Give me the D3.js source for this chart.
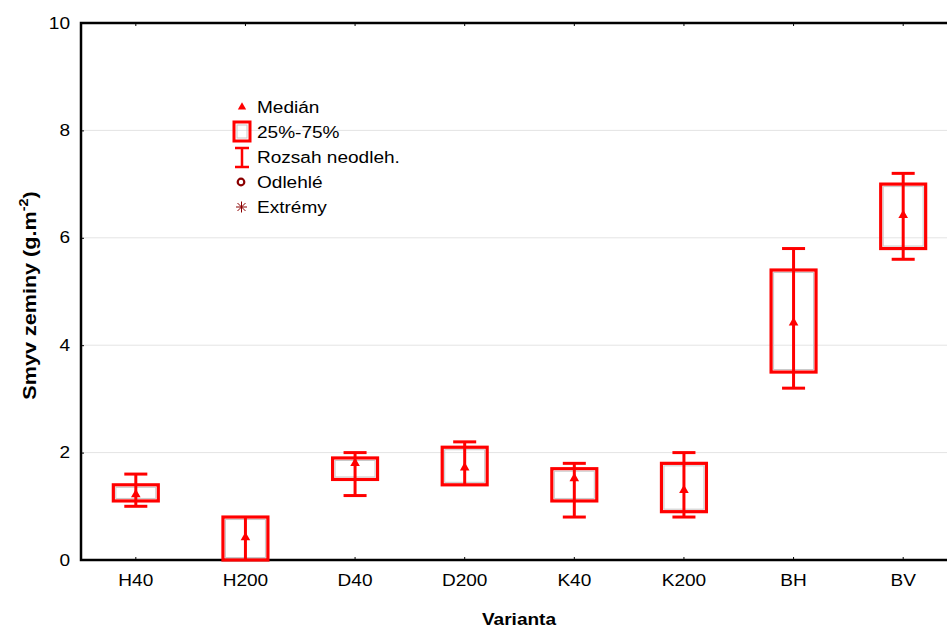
<!DOCTYPE html>
<html>
<head>
<meta charset="utf-8">
<script src="https://cdn.jsdelivr.net/npm/d3@7"></script>
<style>
  body { margin: 0; background: #fff; }
  svg { font-family: "Liberation Sans", Arial, sans-serif; }
</style>
</head>
<body>
<div id="chart"></div>
<script>
// values
const categories = ["H40", "H200", "D40", "D200", "K40", "K200", "BH", "BV"];
const medians = [1.22, 0.42, 1.8, 1.72, 1.52, 1.3, 4.42, 6.42];
const q1 = [1.1, 0.0, 1.5, 1.4, 1.1, 0.9, 3.5, 5.8];
const q3 = [1.4, 0.8, 1.9, 2.1, 1.7, 1.8, 5.4, 7.0];
const mins = [1.0, 0.0, 1.2, 1.4, 0.8, 0.8, 3.2, 5.6];
const maxs = [1.6, 0.8, 2.0, 2.2, 1.8, 2.0, 5.8, 7.2];
const yTicks = [0, 2, 4, 6, 8, 10];
const legendItems = ["Medián", "25%-75%", "Rozsah neodleh.", "Odlehlé", "Extrémy"];

const data = categories.map((c, i) => ({
    cat: c, med: medians[i], q1: q1[i], q3: q3[i], min: mins[i], max: maxs[i]
}));

const width = 947, height = 628;
const margin = {left: 81, top: 23, bottom: 68};
const plotW = 877;
const red = "#ff0000", darkRed = "#8b0000";
const sx = 1.19; // text in the original is drawn wider

const svg = d3.select("#chart").append("svg")
    .attr("width", width)
    .attr("height", height);

const x = d3.scaleBand(categories, [margin.left, margin.left + plotW]);
const y = d3.scaleLinear([0, 10], [height - margin.bottom, margin.top]);

// grid
svg.append("g")
  .selectAll("line")
  .data(yTicks.filter(d => d > 0 && d < 10))
  .join("line")
    .attr("x1", margin.left).attr("x2", width)
    .attr("y1", d => y(d)).attr("y2", d => y(d))
    .attr("stroke", "#e4e4e4").attr("stroke-width", 1);

// y axis
const yAxis = svg.append("g")
    .attr("transform", `translate(${margin.left},0)`)
    .call(d3.axisRight(y).tickValues(yTicks).tickSize(3).tickFormat(d3.format("d")));
yAxis.select(".domain").remove();
yAxis.selectAll(".tick line").attr("stroke", "#000");
yAxis.selectAll(".tick text")
    .attr("x", -11 / sx).attr("text-anchor", "end")
    .attr("transform", `scale(${sx},1)`)
    .attr("font-size", 16).attr("fill", "#000");

// x axis (bottom)
const xAxis = svg.append("g")
    .attr("transform", `translate(0,${y(0)})`)
    .call(d3.axisTop(x).tickSize(3));
xAxis.select(".domain").remove();
xAxis.selectAll(".tick line").attr("stroke", "#000");
xAxis.selectAll(".tick text")
    .attr("y", 26).attr("transform", `scale(${sx},1)`)
    .attr("font-size", 16).attr("fill", "#000");

// top ticks
svg.append("g")
    .attr("transform", `translate(0,${y(10)})`)
    .call(d3.axisBottom(x).tickSize(3).tickFormat(""))
    .call(g => g.select(".domain").remove())
    .selectAll(".tick line").attr("stroke", "#000");

// frame lines
svg.append("path")
    .attr("d", `M${width},${y(10)}H${margin.left}V${y(0)}H${width}`)
    .attr("fill", "none").attr("stroke", "#000").attr("stroke-width", 2.5);

// boxes
const bw = x.bandwidth() * 0.41;
const cw = x.bandwidth() * 0.21;
const g = svg.append("g");
const box = g.selectAll("g.box").data(data).join("g")
    .attr("class", "box")
    .attr("transform", d => `translate(${x(d.cat) + x.bandwidth() / 2},0)`);

box.append("rect")
    .attr("x", -bw / 2).attr("width", bw)
    .attr("y", d => y(d.q3)).attr("height", d => y(d.q1) - y(d.q3))
    .attr("fill", "none").attr("stroke", red).attr("stroke-width", 3.2);
box.append("rect")
    .attr("x", -bw / 2 + 2.5).attr("width", bw - 5)
    .attr("y", d => y(d.q3) + 2.5).attr("height", d => Math.max(0, y(d.q1) - y(d.q3) - 5))
    .attr("fill", "none").attr("stroke", "#c8c8c8").attr("stroke-width", 1);
box.append("line")
    .attr("x1", 0).attr("x2", 0)
    .attr("y1", d => y(d.max)).attr("y2", d => y(d.min))
    .attr("stroke", red).attr("stroke-width", 3);
box.filter(d => d.max > d.q3).append("line")
    .attr("x1", -cw / 2).attr("x2", cw / 2)
    .attr("y1", d => y(d.max)).attr("y2", d => y(d.max))
    .attr("stroke", red).attr("stroke-width", 3);
box.filter(d => d.min < d.q1).append("line")
    .attr("x1", -cw / 2).attr("x2", cw / 2)
    .attr("y1", d => y(d.min)).attr("y2", d => y(d.min))
    .attr("stroke", red).attr("stroke-width", 3);
box.append("path")
    .attr("d", d3.symbol(d3.symbolTriangle, 40))
    .attr("transform", d => `translate(0,${y(d.med)})`)
    .attr("fill", red);

// legend
const lg = svg.append("g").attr("transform", "translate(242,107)");
const ly = [0, 25, 50, 75, 100];
lg.selectAll("text").data(legendItems).join("text")
    .attr("transform", (d, i) => `translate(15,${ly[i]}) scale(${sx},1)`)
    .attr("dy", "0.35em").attr("font-size", 16).attr("fill", "#000")
    .text(d => d);
lg.append("path").attr("d", d3.symbol(d3.symbolTriangle, 30))
    .attr("fill", red);
lg.append("rect").attr("x", -8).attr("y", ly[1] - 10).attr("width", 16).attr("height", 19)
    .attr("fill", "none").attr("stroke", red).attr("stroke-width", 3);
lg.append("rect").attr("x", -5).attr("y", ly[1] - 7).attr("width", 10).attr("height", 13)
    .attr("fill", "none").attr("stroke", "#c8c8c8").attr("stroke-width", 1);
lg.append("path")
    .attr("d", `M-7,${ly[2] - 9}H7M0,${ly[2] - 9}V${ly[2] + 10}M-7,${ly[2] + 10}H7`)
    .attr("fill", "none").attr("stroke", red).attr("stroke-width", 2.5);
lg.append("circle").attr("cx", -1).attr("cy", ly[3]).attr("r", 3.3)
    .attr("fill", "none").attr("stroke", darkRed).attr("stroke-width", 2.2);
lg.append("path")
    .attr("d", `M-6,${ly[4]}H5M-0.5,${ly[4] - 5.5}V${ly[4] + 5.5}M-4.5,${ly[4] - 4}L3.5,${ly[4] + 4}M-4.5,${ly[4] + 4}L3.5,${ly[4] - 4}`)
    .attr("stroke", darkRed).attr("stroke-width", 1);

// axis titles
svg.append("text")
    .attr("transform", `translate(519,625) scale(${sx},1)`)
    .attr("text-anchor", "middle").attr("font-size", 16).attr("font-weight", "bold")
    .text("Varianta");
const yt = svg.append("text")
    .attr("transform", `translate(36,${y(5) + 4}) rotate(-90) scale(1.2,1)`)
    .attr("text-anchor", "middle").attr("font-size", 18).attr("font-weight", "bold");
yt.append("tspan").text("Smyv zeminy (g.m");
yt.append("tspan").attr("dy", -8).attr("font-size", 12).text("-2");
yt.append("tspan").attr("dy", 8).text(")");
</script>
</body>
</html>
